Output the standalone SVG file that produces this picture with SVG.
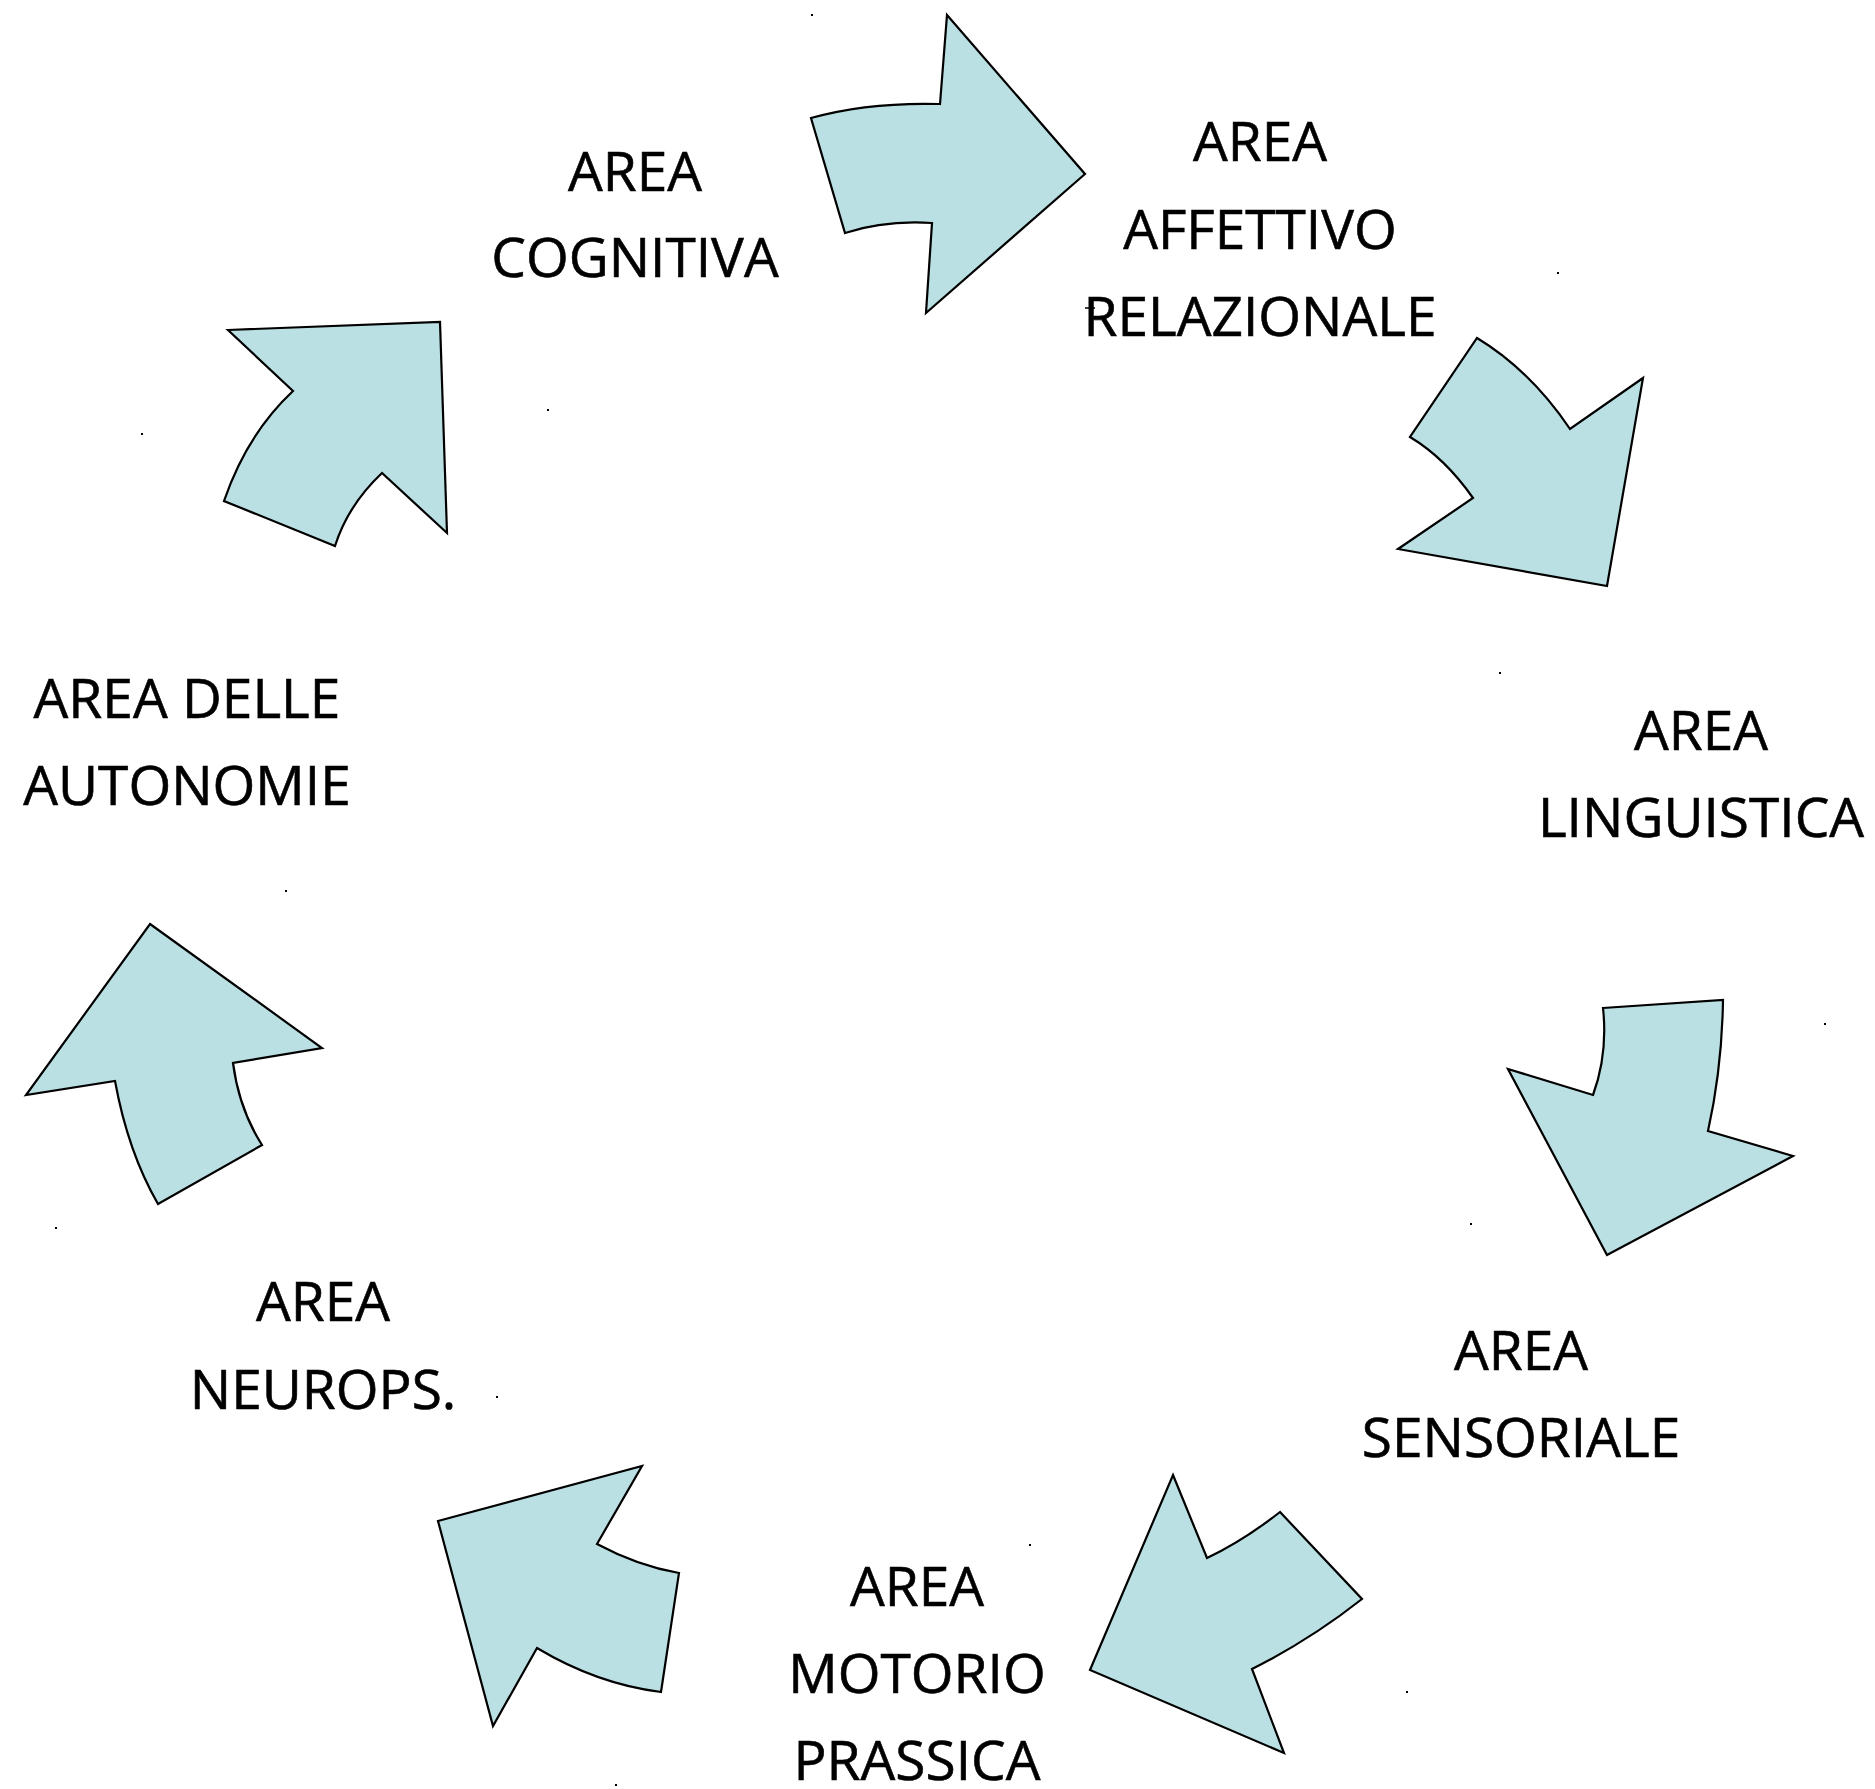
<svg xmlns="http://www.w3.org/2000/svg" width="1875" height="1789" viewBox="0 0 1875 1789">
<style>
.arrow{fill:#bae0e3;stroke:#000;stroke-width:2.2;stroke-linejoin:miter}
.lbl{font-family:"Open Sans","Noto Sans","Liberation Sans",sans-serif;font-size:55px;fill:#000;stroke:#000;stroke-width:0.6;text-anchor:middle}
.dot{fill:#000}
</style>
<rect width="1875" height="1789" fill="#fff"/>
<g id="connectors">
<path id="arrow-cog-aff" class="arrow" d="M811,118 Q868,102 940,104 L947,15 L1085,174 L926,313 L932,223 Q885,220 845,233 Z"/>
<path id="arrow-aff-ling" class="arrow" d="M1477,338 Q1530,370 1570,429 L1643,378 L1607,586 L1398,549 L1473,498 Q1445,458 1410,437 Z"/>
<path id="arrow-ling-sens" class="arrow" d="M1603,1008 L1723,1000 Q1722,1068 1708,1131 L1793,1156 L1607,1255 L1508,1069 L1593,1095 Q1608,1054 1603,1008 Z"/>
<path id="arrow-sens-mot" class="arrow" d="M1173,1475 L1207,1558 Q1243,1541 1280,1512 L1362,1599 Q1310,1640 1252,1669 L1284,1753 L1090,1670 Z"/>
<path id="arrow-mot-neu" class="arrow" d="M438,1521 L642,1466 L597,1544 Q638,1566 679,1573 L661,1692 Q597,1684 537,1648 L493,1726 Z"/>
<path id="arrow-neu-aut" class="arrow" d="M150,924 L322,1048 L233,1063 Q239,1109 262,1145 L158,1204 Q128,1152 115,1081 L26,1095 Z"/>
<path id="arrow-aut-cog" class="arrow" d="M228,330 L440,322 L447,533 L382,473 Q348,505 335,546 L224,501 Q247,434 293,391 Z"/>
</g>
<g id="node-cognitiva"><text class="lbl" x="635" y="191">AREA</text><text class="lbl" x="635" y="277">COGNITIVA</text></g>
<g id="node-affettivo"><text class="lbl" x="1260" y="161">AREA</text><text class="lbl" x="1260" y="249">AFFETTIVO</text><text class="lbl" x="1260" y="336">RELAZIONALE</text><line x1="1085" y1="308" x2="1095" y2="308" stroke="#000" stroke-width="1.5"/></g>
<g id="node-linguistica"><text class="lbl" x="1701" y="750">AREA</text><text class="lbl" x="1701" y="837">LINGUISTICA</text></g>
<g id="node-sensoriale"><text class="lbl" x="1521" y="1370">AREA</text><text class="lbl" x="1521" y="1457">SENSORIALE</text></g>
<g id="node-motorio"><text class="lbl" x="917" y="1606">AREA</text><text class="lbl" x="917" y="1693">MOTORIO</text><text class="lbl" x="917" y="1780">PRASSICA</text></g>
<g id="node-neurops"><text class="lbl" x="323" y="1321">AREA</text><text class="lbl" x="323" y="1409">NEUROPS.</text></g>
<g id="node-autonomie"><text class="lbl" x="187" y="718">AREA DELLE</text><text class="lbl" x="187" y="805">AUTONOMIE</text></g>
<g id="specks">
<rect class="dot" x="811" y="14" width="2" height="2"/>
<rect class="dot" x="1557" y="272" width="2" height="2"/>
<rect class="dot" x="547" y="409" width="2" height="2"/>
<rect class="dot" x="141" y="433" width="2" height="2"/>
<rect class="dot" x="1499" y="672" width="2" height="2"/>
<rect class="dot" x="285" y="890" width="2" height="2"/>
<rect class="dot" x="1824" y="1023" width="2" height="2"/>
<rect class="dot" x="1470" y="1223" width="2" height="2"/>
<rect class="dot" x="55" y="1227" width="2" height="2"/>
<rect class="dot" x="496" y="1396" width="2" height="2"/>
<rect class="dot" x="1029" y="1544" width="2" height="2"/>
<rect class="dot" x="1406" y="1691" width="2" height="2"/>
<rect class="dot" x="615" y="1784" width="2" height="2"/>
</g>
</svg>
